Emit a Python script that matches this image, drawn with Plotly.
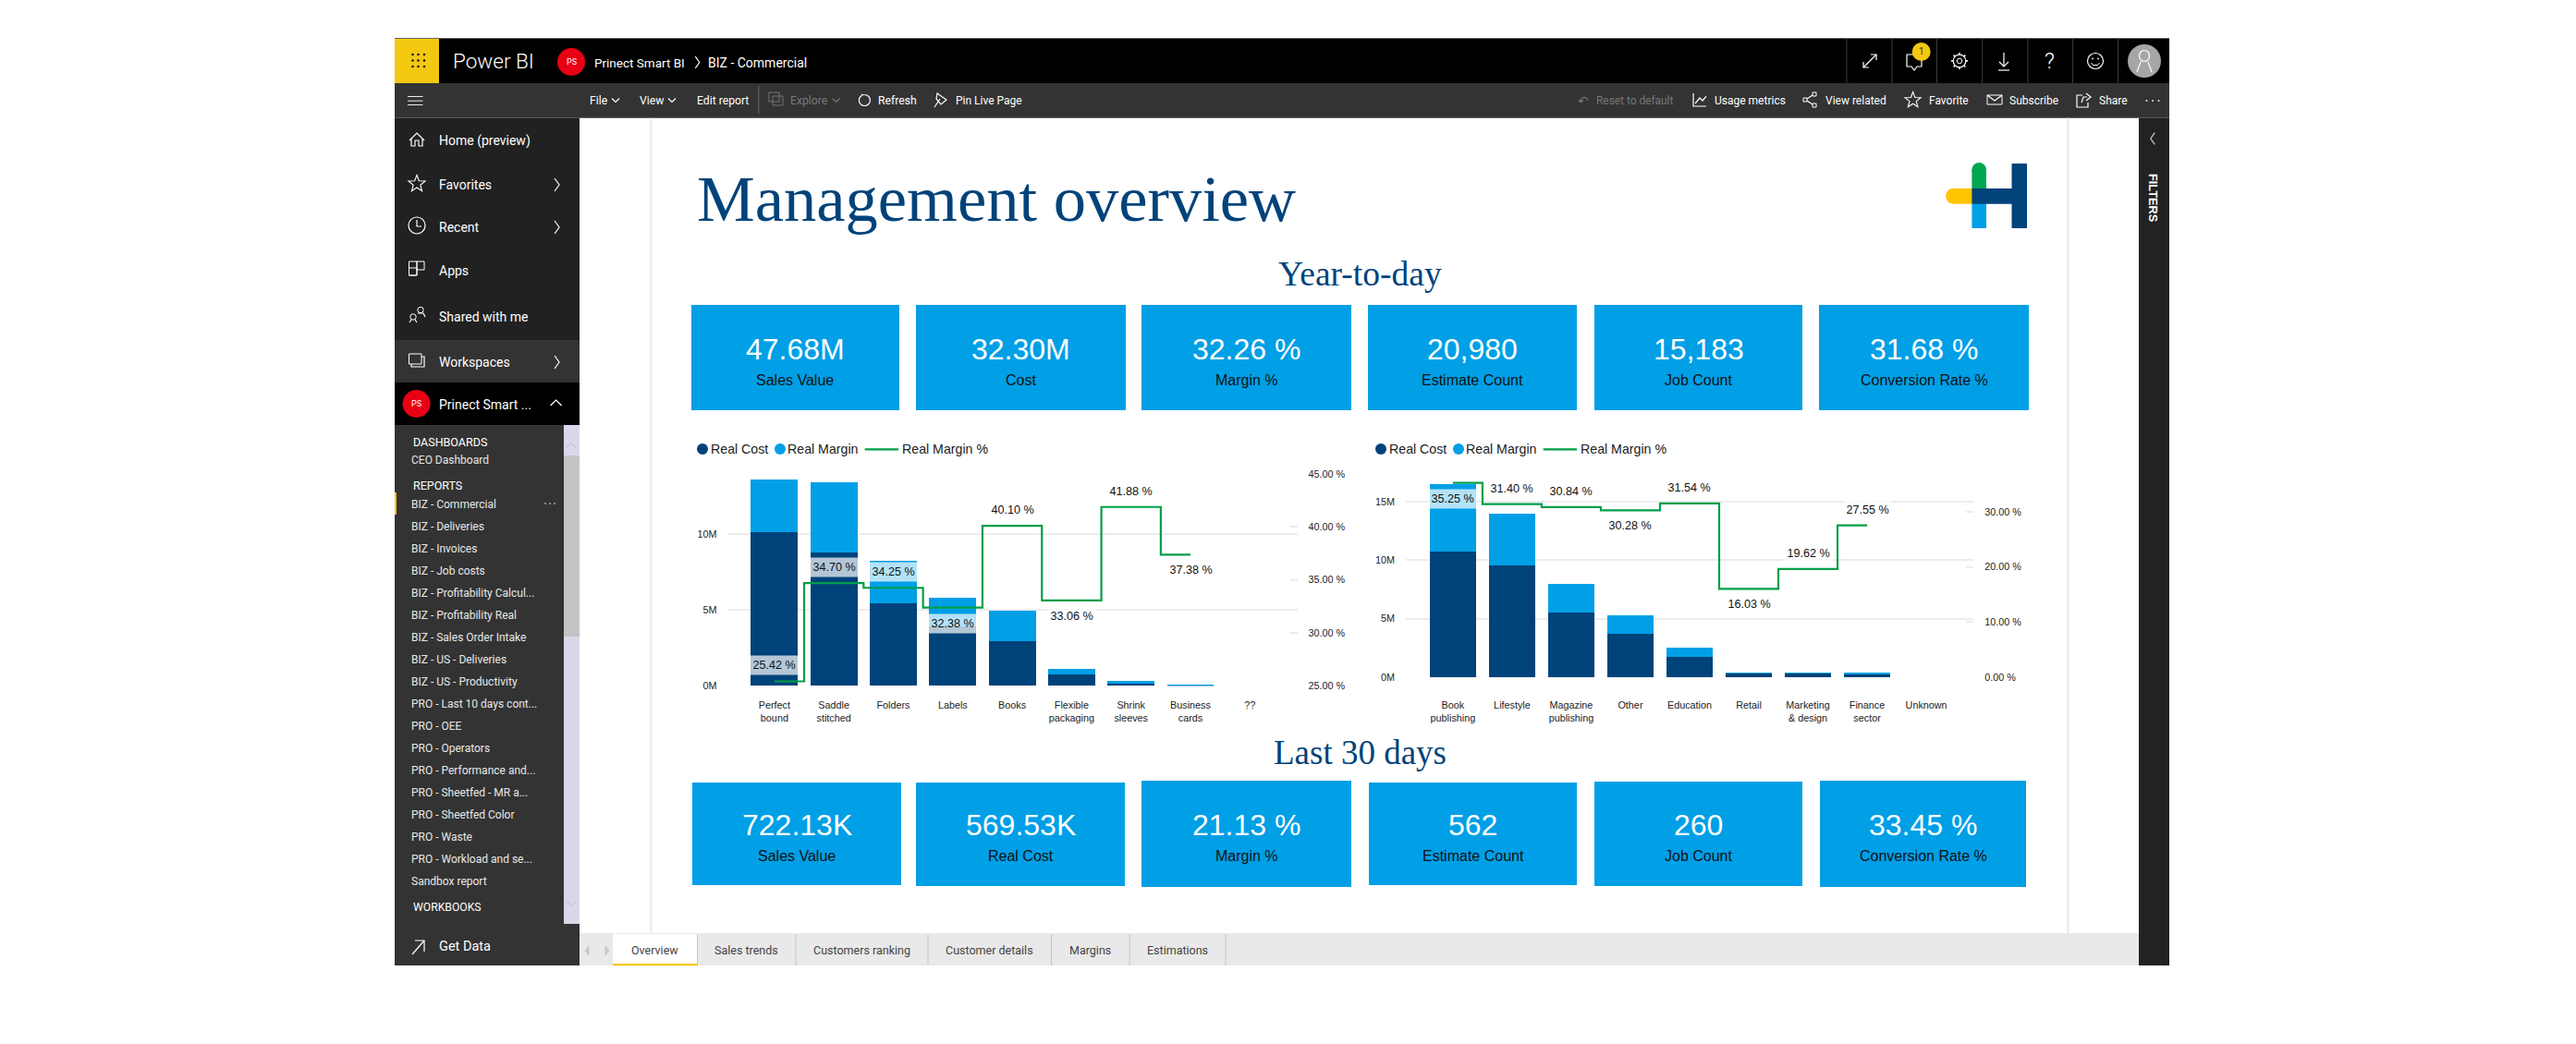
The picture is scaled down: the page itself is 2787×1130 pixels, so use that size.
import math
import plotly.graph_objects as go

# ---------- data ----------
cats_a = ["Perfect<br>bound", "Saddle<br>stitched", "Folders", "Labels", "Books",
          "Flexible<br>packaging", "Shrink<br>sleeves", "Business<br>cards", "??"]
cost_a = [10.16, 8.80, 5.45, 3.92, 2.97, 0.75, 0.14, 0.01, None]
margin_a = [3.46, 4.64, 2.80, 1.89, 1.99, 0.37, 0.19, 0.05, None]
pct_a = [25.42, 34.70, 34.25, 32.38, 40.10, 33.06, 41.88, 37.38, None]
pct_a_dir = [1, 1, 1, -1, 1, -1, 1, -1]

cats_b = ["Book<br>publishing", "Lifestyle", "Magazine<br>publishing", "Other", "Education",
          "Retail", "Marketing<br>& design", "Finance<br>sector", "Unknown"]
cost_b = [10.72, 9.55, 5.53, 3.71, 1.74, 0.32, 0.32, 0.26, None]
margin_b = [5.80, 4.42, 2.44, 1.58, 0.79, 0.07, 0.07, 0.11, None]
pct_b = [35.25, 31.40, 30.84, 30.28, 31.54, 16.03, 19.62, 27.55, None]
pct_b_dir = [-1, 1, 1, -1, 1, -1, 1, 1]

card_labels = ["Sales Value", "Cost", "Margin %", "Estimate Count", "Job Count", "Conversion Rate %"]
ytd_values = ["47.68M", "32.30M", "32.26 %", "20,980", "15,183", "31.68 %"]
recent_labels = ["Sales Value", "Real Cost", "Margin %", "Estimate Count", "Job Count", "Conversion Rate %"]
recent_values = ["722.13K", "569.53K", "21.13 %", "562", "260", "33.45 %"]

report_items = ["BIZ - Commercial", "BIZ - Deliveries", "BIZ - Invoices", "BIZ - Job costs",
                "BIZ - Profitability Calcul...", "BIZ - Profitability Real", "BIZ - Sales Order Intake",
                "BIZ - US - Deliveries", "BIZ - US - Productivity", "PRO - Last 10 days cont...",
                "PRO - OEE", "PRO - Operators", "PRO - Performance and...", "PRO - Sheetfed - MR a...",
                "PRO - Sheetfed Color", "PRO - Waste", "PRO - Workload and se...", "Sandbox report"]
tabs = ["Overview", "Sales trends", "Customers ranking", "Customer details", "Margins", "Estimations"]

# ---------- palette / page geometry ----------
DARK, LIGHT, GREEN = "#00437a", "#009fe6", "#009e49"
YELLOW = "#f2c811"
OFF = 8            # browser body margin
W, H = 2771, 1114
UI, CH, SERIF = "Roboto", "Liberation Sans", "Liberation Serif"

def X(v): return (v - OFF) / W
def Y(v): return 1 - (v - OFF) / H

shapes, notes = [], []

def rect(x0, y0, x1, y1, fill=None, line=None, lw=1):
    shapes.append(dict(type="rect", xref="paper", yref="paper", x0=X(x0), x1=X(x1), y0=Y(y1), y1=Y(y0),
                       fillcolor=fill or "rgba(0,0,0,0)", line=dict(color=line or "rgba(0,0,0,0)", width=lw if line else 0),
                       layer="below"))

def oval(cx, cy, rx, ry=None, fill=None, line=None, lw=1):
    ry = ry or rx
    shapes.append(dict(type="circle", xref="paper", yref="paper", x0=X(cx - rx), x1=X(cx + rx), y0=Y(cy + ry), y1=Y(cy - ry),
                       fillcolor=fill or "rgba(0,0,0,0)", line=dict(color=line or "rgba(0,0,0,0)", width=lw if line else 0),
                       layer="below"))

def poly(pts, color="#ffffff", lw=1.2, fill=None, closed=False):
    d = "M " + " L ".join(f"{X(a):.5f},{Y(b):.5f}" for a, b in pts) + (" Z" if closed else "")
    shapes.append(dict(type="path", xref="paper", yref="paper", path=d, fillcolor=fill or "rgba(0,0,0,0)",
                       line=dict(color=color, width=lw), layer="below"))

def txt(x, y, s, size=13, color="#ffffff", anchor="left", font=UI, angle=0, weight=None):
    f = dict(family=font, size=size, color=color)
    if weight:
        f["weight"] = weight
    notes.append(dict(xref="paper", yref="paper", x=X(x), y=Y(y), text=s, showarrow=False, xanchor=anchor,
                      yanchor="middle", textangle=angle, font=f, borderpad=0, borderwidth=0))

def chev(cx, cy, d, s=4.5, color="#ffffff", lw=1.2):
    if d == "r": p = [(cx - s / 2, cy - s * 1.4), (cx + s / 2, cy), (cx - s / 2, cy + s * 1.4)]
    if d == "l": p = [(cx + s / 2, cy - s * 1.4), (cx - s / 2, cy), (cx + s / 2, cy + s * 1.4)]
    if d == "d": p = [(cx - s, cy - s / 2), (cx, cy + s / 2), (cx + s, cy - s / 2)]
    if d == "u": p = [(cx - s, cy + s / 2), (cx, cy - s / 2), (cx + s, cy + s / 2)]
    poly(p, color, lw)

def star(cx, cy, r, color="#ffffff", lw=1.1):
    pts = []
    for k in range(10):
        rad = r if k % 2 == 0 else r * 0.42
        a = -math.pi / 2 + k * math.pi / 5
        pts.append((cx + rad * math.cos(a), cy + rad * math.sin(a)))
    poly(pts, color, lw, closed=True)

# ---------- window chrome ----------
rect(427, 41, 2347, 42.2, "#666666")
rect(427, 42, 2347, 90, "#000000")
rect(427, 42, 475, 90, YELLOW)
for dx in (446.5, 452.5, 459):
    for dy in (59, 65.5, 72):
        oval(dx, dy, 1.3, fill="#111111")
txt(490, 66, "Power BI", 22.5, "#ffffff", weight=300)
oval(618, 67, 15, fill="#ea0014")
txt(618, 67, "PS", 9, "#ffffff", "center")
txt(643, 68, "Prinect Smart BI", 13.5)
chev(754.5, 67.5, "r", 4.5)
txt(766, 68, "BIZ - Commercial", 14)
for sx in (1997.5, 2046.6, 2095, 2144.4, 2193.5, 2242, 2291):
    rect(sx, 42, sx + 0.8, 90, "#4a4a4a")
poly([(2016, 73), (2030, 59)]); poly([(2016, 67), (2016, 73), (2022, 73)]); poly([(2024, 59), (2030, 59), (2030, 65)])
poly([(2063, 59), (2079, 59), (2079, 72), (2074, 72), (2071, 76), (2068, 72), (2063, 72)], closed=True)
oval(2078.7, 56, 10, fill=YELLOW)
txt(2078.7, 56, "1", 10, "#333333", "center")
oval(2120, 66, 6.8, line="#ffffff", lw=1.2); oval(2120, 66, 2.8, line="#ffffff", lw=1)
for k in range(8):
    a = k * math.pi / 4
    poly([(2120 + 6.8 * math.cos(a), 66 + 6.8 * math.sin(a)), (2120 + 9 * math.cos(a), 66 + 9 * math.sin(a))], lw=1.6)
poly([(2168, 57), (2168, 72)]); poly([(2163, 67), (2168, 72), (2173, 67)]); poly([(2162, 76), (2174, 76)])
txt(2217, 66, "?", 24, "#ffffff", "center", UI, weight=300)
oval(2267, 66, 8.5, line="#ffffff", lw=1.2); oval(2264, 63.5, 0.9, fill="#ffffff"); oval(2270, 63.5, 0.9, fill="#ffffff")
poly([(2262.5, 68), (2264.5, 70.5), (2269.5, 70.5), (2271.5, 68)], lw=1)
oval(2320, 66, 18, fill="#a6a6a6")
oval(2320, 60.5, 5.5, 6, line="#ffffff", lw=1.2)
poly([(2312, 78), (2316, 67)]); poly([(2324, 67), (2328, 78)])

# toolbar
rect(427, 90, 2347, 127.7, "#333333")
for hy in (104, 108.7, 113):
    rect(441, hy, 457.5, hy + 0.9, "#ffffff")
txt(638, 109, "File", 12.2); chev(666, 108.5, "d", 4)
txt(692, 109, "View", 12.2); chev(727, 108.5, "d", 4)
txt(753.6, 109, "Edit report", 12.2)
rect(820.4, 93, 821.2, 123, "#777777")
rect(832, 100, 843, 110, line="#777777"); rect(836, 104, 847, 114, line="#777777")
txt(855.5, 109, "Explore", 12.2, "#777777"); chev(904.7, 108.5, "d", 4, "#777777")
oval(935.4, 108.5, 6, line="#ffffff", lw=1.2); rect(933, 100, 935.2, 104, "#333333"); poly([(932, 102), (935, 103)], lw=1)
txt(950, 109, "Refresh", 12.2)
poly([(1011, 116), (1017, 107)]); poly([(1014, 101), (1024, 108), (1018, 113), (1013, 107)], closed=True)
txt(1034, 109, "Pin Live Page", 12)
txt(1713, 109, "↶", 14, "#777777", "center", "DejaVu Sans")
txt(1726.6, 109, "Reset to default", 11.9, "#777777")
poly([(1832, 101), (1832, 115), (1846, 115)]); poly([(1834, 112), (1839, 106), (1842, 109), (1846, 104)])
txt(1855, 109, "Usage metrics", 12)
rect(1951, 106, 1955, 110, line="#ffffff"); rect(1961, 100, 1965, 104, line="#ffffff"); rect(1961, 112, 1965, 116, line="#ffffff")
poly([(1955, 107), (1961, 103)]); poly([(1955, 109), (1961, 113)])
txt(1974.5, 109, "View related", 12)
star(2069.6, 108.5, 9)
txt(2087, 109, "Favorite", 12)
rect(2150, 103, 2166, 113, line="#ffffff"); poly([(2150, 103), (2158, 109), (2166, 103)])
txt(2173.8, 109, "Subscribe", 12)
poly([(2253, 103), (2247, 103), (2247, 116), (2259, 116), (2259, 111)]); poly([(2252, 111), (2254, 105), (2258, 105)]); poly([(2257, 101), (2262, 105), (2257, 109)])
txt(2270.6, 109, "Share", 12)
for ddx in (2322.5, 2329, 2335.5):
    oval(ddx, 109, 0.9, fill="#ffffff")

# ---------- left navigation ----------
rect(427, 127.7, 627, 368, "#212121")
rect(427, 368, 627, 414, "#333333")
rect(427, 414, 627, 460, "#000000")
rect(427, 460, 627, 1000, "#333333")
rect(427, 1000, 627, 1045, "#333333")
rect(610, 460, 627, 1000, "#d9d8ea")
rect(610, 493, 627, 689, "#c4c4c4")
chev(618, 482, "u", 5, "#c6c6d2"); chev(618, 978, "d", 5, "#c6c6d2")

poly([(443, 152), (451, 144), (459, 152)]); poly([(445, 150), (445, 158), (449, 158), (449, 152), (453, 152), (453, 158), (457, 158), (457, 150)])
txt(475, 152, "Home (preview)", 14)
star(451, 199, 9.5)
txt(475, 200, "Favorites", 14); chev(602.5, 200, "r", 5)
oval(451, 244, 9, line="#ffffff", lw=1.2); poly([(451, 238), (451, 245), (456, 245)])
txt(475, 246, "Recent", 14); chev(602.5, 246, "r", 5)
rect(442.5, 283, 451, 298, line="#ffffff"); rect(451, 283, 459, 292, line="#ffffff"); rect(442.5, 290, 451, 298, line="#ffffff")
txt(475, 293, "Apps", 14)
oval(455, 335.5, 3.2, line="#ffffff"); oval(447, 343, 3.2, line="#ffffff")
poly([(443, 349), (445, 346)]); poly([(449, 346), (451, 349)]); poly([(452, 339), (458, 339), (460, 343)])
txt(475, 343, "Shared with me", 14)
rect(442.5, 383, 456, 394, line="#ffffff"); poly([(456, 386), (459, 386), (459, 397), (445, 397), (445, 394)])
txt(475, 392, "Workspaces", 14); chev(602.5, 392, "r", 5)
oval(450.6, 437, 15, fill="#ea0014")
txt(450.6, 437, "PS", 9, "#ffffff", "center")
txt(475, 438, "Prinect Smart ...", 14); chev(601.6, 436, "u", 6)
txt(447, 478, "DASHBOARDS", 12.5, "#ffffff", font=UI)
txt(445, 498, "CEO Dashboard", 12, "#e6e6e6")
txt(447, 525, "REPORTS", 12.5, "#ffffff")
for i, s in enumerate(report_items):
    txt(445, 545.8 + 24 * i, s, 12, "#e8e8e8")
rect(427, 533, 429, 557, YELLOW)
for ddx in (590, 595, 600):
    oval(ddx, 545, 0.8, fill="#ffffff")
txt(447, 982, "WORKBOOKS", 12.2, "#ffffff")
poly([(446, 1033), (459, 1018)]); poly([(449, 1018), (459, 1018), (459, 1030)])
txt(475, 1024, "Get Data", 14.5)

# ---------- right filter rail ----------
rect(2314, 127.7, 2347, 1045, "#222222")
chev(2329, 150, "l", 4.5, "#cccccc")
txt(2329, 214, "<b>FILTERS</b>", 12.8, "#ffffff", "center", CH, 90)

# ---------- page canvas ----------
rect(703, 127.7, 705.5, 1010, "#ececec")
rect(2236, 127.7, 2238.5, 1010, "#ececec")
rect(627, 1010, 2314, 1045, "#e9e9e9")
tab_edges = [663, 754, 860.5, 1003.5, 1137, 1221.6, 1325.5]
rect(663, 1011, 754, 1045, "#ffffff")
rect(663, 1043, 754, 1045.3, YELLOW)
for e in tab_edges[1:]:
    rect(e, 1011, e + 1, 1045, "#c6c6c6")
for i, s in enumerate(tabs):
    txt((tab_edges[i] + tab_edges[i + 1]) / 2, 1029, s, 12.5, "#444444", "center")
poly([(637, 1024), (633, 1029), (637, 1034)], "#c8c8c8", 1, "#c8c8c8", True)
poly([(655, 1024), (659, 1029), (655, 1034)], "#c8c8c8", 1, "#c8c8c8", True)

txt(754, 215, "Management overview", 70.5, DARK, font=SERIF)
txt(1471, 297, "Year-to-day", 37.5, DARK, "center", SERIF)
txt(1471, 814, "Last 30 days", 37, DARK, "center", SERIF)

# logo
rect(2133.4, 184, 2149, 206, "#00a651"); oval(2141.2, 184, 7.8, 8, fill="#00a651")
rect(2133.4, 220, 2149, 247, LIGHT)
rect(2113, 204, 2135, 220.7, "#ffc400"); oval(2113, 212.3, 8, 8.3, fill="#ffc400")
rect(2176.5, 177, 2193, 247, DARK)
rect(2133.4, 204, 2177, 220.7, DARK)

# ---------- KPI cards ----------
ytd_boxes = [(748, 330, 973, 444), (991, 330, 1218, 444), (1235, 330, 1462, 444),
             (1480, 330, 1706, 444), (1725, 330, 1950, 444), (1968, 330, 2195, 444)]
recent_boxes = [(749, 847, 975, 958), (991, 847, 1217, 959), (1235, 845, 1462, 960),
                (1481, 847, 1706, 958), (1725, 846, 1950, 959), (1969, 845, 2192, 960)]
for boxes, vals, labs, vy, ly in ((ytd_boxes, ytd_values, card_labels, 378, 411.5),
                                  (recent_boxes, recent_values, recent_labels, 893, 926.7)):
    for b, v, l in zip(boxes, vals, labs):
        rect(*b, LIGHT)
        c = (b[0] + b[2]) / 2
        txt(c, vy, v, 32, "#ffffff", "center", CH)
        txt(c, ly, l, 16, "#111111", "center", CH)

# ---------- chart legends ----------
for cx0, ct0, cx1, ct1, lx0, lx1, lt in ((760, 768.6, 844, 852, 935.7, 972, 976),
                                         (1494, 1502.6, 1578, 1586, 1669.7, 1706, 1710)):
    oval(cx0, 486, 6, fill=DARK); txt(ct0, 485.5, "Real Cost", 14.2, "#222222", font=CH)
    oval(cx1, 486, 6, fill=LIGHT); txt(ct1, 485.5, "Real Margin", 14.2, "#222222", font=CH)
    rect(lx0, 485.2, lx1, 487.4, GREEN); txt(lt, 485.5, "Real Margin %", 14.2, "#222222", font=CH)

# ---------- charts ----------
fig = go.Figure()
for cats, cost, margin, pct, xa, ya, ya2 in ((cats_a, cost_a, margin_a, pct_a, "x", "y", "y2"),
                                             (cats_b, cost_b, margin_b, pct_b, "x2", "y3", "y4")):
    fig.add_trace(go.Bar(x=cats, y=cost, name="Real Cost", marker=dict(color=DARK, line_width=0), xaxis=xa, yaxis=ya, width=0.79))
    fig.add_trace(go.Bar(x=cats, y=margin, name="Real Margin", marker=dict(color=LIGHT, line_width=0), xaxis=xa, yaxis=ya, width=0.79))
    fig.add_trace(go.Scatter(x=cats, y=pct, name="Real Margin %", mode="lines", xaxis=xa, yaxis=ya2,
                             line=dict(color=GREEN, width=2.2, shape="hvh"), connectgaps=False))

for vals, dirs, xa, ya in ((pct_a, pct_a_dir, "x", "y2"), (pct_b, pct_b_dir, "x2", "y4")):
    for i, (v, d) in enumerate(zip(vals, dirs)):
        notes.append(dict(xref=xa, yref=ya, x=i, y=v, yshift=17 * d, text=f"{v:.2f} %", showarrow=False,
                          xanchor="center", yanchor="middle", width=51, height=20,
                          bgcolor="rgba(255,255,255,0.7)", borderpad=0,
                          font=dict(family=CH, size=12.6, color="#111111")))

GRID = "#ececec"
def xaxis(cats, left, right, r, anchor, standoff):
    return dict(domain=[X(left), X(right)], range=r, type="category", categoryorder="array", categoryarray=cats,
                anchor=anchor, showgrid=False, showline=False, zeroline=False, ticks="", ticklabelstandoff=standoff,
                tickangle=0, tickfont=dict(family=CH, size=10.8, color="#222222"), automargin=False)
def yaxis(bot, top, r, vals, labels, anchor):
    return dict(domain=[Y(bot), Y(top)], range=r, tickvals=vals, ticktext=labels, anchor=anchor, side="left",
                showgrid=True, gridcolor=GRID, gridwidth=1.5, zeroline=False, showline=False, ticks="",
                ticklabelstandoff=11, tickfont=dict(family=CH, size=10.8, color="#222222"), automargin=False)
def y2axis(bot, top, r, vals, labels, anchor, over):
    return dict(domain=[Y(bot), Y(top)], range=r, tickvals=vals, ticktext=labels, anchor=anchor, side="right",
                overlaying=over, showgrid=False, zeroline=False, showline=False, ticks="inside", ticklen=8,
                tickcolor=GRID, tickwidth=1.5, ticklabelstandoff=11,
                tickfont=dict(family=CH, size=10.8, color="#222222"), automargin=False)

sec_a = [25, 30, 35, 40, 45]
sec_b = [0, 10, 20, 30]
fig.update_layout(
    width=W, height=H, margin=dict(l=0, r=0, t=0, b=0), autosize=False, showlegend=False,
    paper_bgcolor="#ffffff", plot_bgcolor="rgba(0,0,0,0)", barmode="stack", bargap=0.21,
    xaxis=xaxis(cats_a, 787.4, 1403.5, [-0.785, 8.796], "y", 13),
    yaxis=yaxis(742.3, 513, [0, 13.98], [0, 5, 10], ["0M", "5M", "10M"], "x"),
    yaxis2=y2axis(742.3, 513, [25, 45], sec_a, [f"{v:.2f} %" for v in sec_a], "x", "y"),
    xaxis2=xaxis(cats_b, 1521, 2135.3, [-0.795, 8.80], "y3", 22),
    yaxis3=yaxis(733, 515, [0, 17.2], [0, 5, 10, 15], ["0M", "5M", "10M", "15M"], "x2"),
    yaxis4=y2axis(733, 515, [0, 36.53], sec_b, [f"{v:.2f} %" for v in sec_b], "x2", "y3"),
    shapes=shapes, annotations=notes,
)
fig.write_html("out.html")
